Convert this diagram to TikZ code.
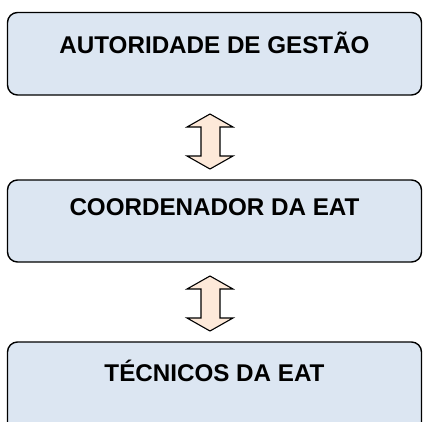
\documentclass[tikz,border=0pt]{standalone}
\usepackage{fontspec}
\setmainfont{Liberation Sans}
\definecolor{boxfill}{HTML}{DCE6F2}
\definecolor{arrowfill}{HTML}{FDE9D9}
\begin{document}
\begin{tikzpicture}[x=1pt,y=-1pt,
  level/.style={draw=black,line width=1.4pt,fill=boxfill,rounded corners=10pt,
    minimum width=414pt,inner sep=0pt,outer sep=0pt},
  lbl/.style={font=\bfseries\fontsize{24.2}{28}\selectfont,anchor=center,inner sep=0pt},
  dblarrow/.style={draw=black,line width=1.1pt,fill=arrowfill,line join=miter}]
\useasboundingbox (0,0) rectangle (423,421);
\clip (0,0) rectangle (423,421);
% boxes
\node[level,minimum height=82.5pt] (b1) at (214.5,53.75) {};
\node[lbl] (ag) at (214.5,43) {AUTORIDADE DE GESTÃO};
\node[level,minimum height=82pt] (b2) at (214.5,221) {};
\node[lbl] (co) at (214.5,207.5) {COORDENADOR DA EAT};
\node[level,minimum height=98pt] (b3) at (214.5,391) {};
\node[lbl] (te) at (214.5,371) {TÉCNICOS DA EAT};
% double arrows
\foreach \t/\b in {114/169, 276/331}{
  \draw[dblarrow] (210,\t) -- (233,\t+13) -- (220,\t+13) -- (220,\b-13) -- (233,\b-13)
    -- (210,\b) -- (187,\b-13) -- (201,\b-13) -- (201,\t+13) -- (187,\t+13) -- cycle;
}
\end{tikzpicture}
\end{document}
